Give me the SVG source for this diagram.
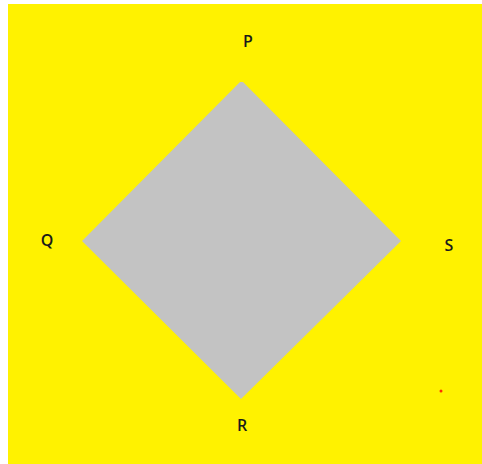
<svg xmlns="http://www.w3.org/2000/svg" width="482" height="464" viewBox="0 0 482 464">
<style>
.lbl{font-family:"Open Sans","Liberation Sans",Arial,sans-serif;font-size:16px;font-weight:600;fill:#1a1a1a;text-anchor:middle}
</style>
<rect x="0" y="0" width="482" height="464" fill="#ffffff"/>
<rect x="8" y="4" width="474" height="460" fill="#fff200"/>
<g id="diamond">
<polygon points="240,82 243,82 401,241 241,399 82,241" fill="#c3c3c3"/>
</g>
<g id="P"><text class="lbl" x="248" y="47">P</text></g>
<g id="Q"><text class="lbl" x="47" y="246">Q</text></g>
<g id="S"><text class="lbl" x="449" y="251">S</text></g>
<g id="R"><text class="lbl" x="242" y="431">R</text></g>
<circle cx="441" cy="391" r="1.5" fill="#ff3000"/>
</svg>
